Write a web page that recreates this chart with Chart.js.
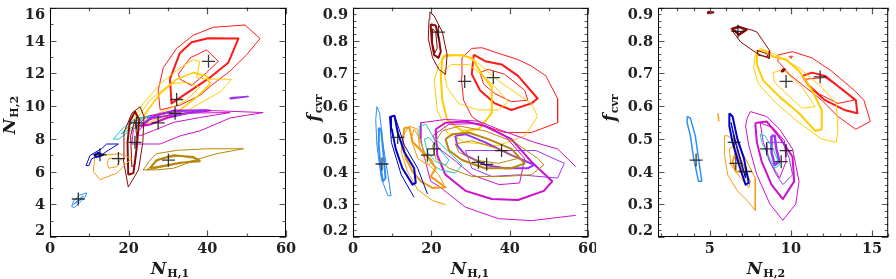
<!DOCTYPE html>
<html>
<head>
<meta charset="utf-8">
<script src="https://cdn.jsdelivr.net/npm/chart.js@4.4.0/dist/chart.umd.min.js"></script>
<style>
  body { margin: 0; background: #fff; width: 896px; height: 279px; position: relative; overflow: hidden; }
  canvas { position: absolute; top: 0; }
</style>
</head>
<body>
<canvas id="c1" width="298" height="279" style="left:0"></canvas>
<canvas id="c2" width="298" height="279" style="left:298px"></canvas>
<canvas id="c3" width="300" height="279" style="left:596px"></canvas>
<script>
// colours of the sources
const cLightBlue = "#2f8ff5";
const cBlue = "#0000cc";
const cOrange = "#f39a12";
const cDarkRed = "#8b0a0a";
const cCyan = "#1cc8c8";
const cGold = "#ffcc00";
const cRed = "#ff1a1a";
const cMagenta = "#cc11cc";
const cPurple = "#9933ee";
const cGoldenrod = "#b8860b";

// ---------- panel 1 : N_H,1 vs N_H,2 ----------
const p1RedThin = [
  [[27.5,10.95],[28.8,12.34],[32.2,13.52],[36.4,14.32],[41.5,14.81],[49.6,14.95],[53.4,14.12],[50,13.13],[45.8,12.14],[41.5,11.35],[38.1,10.65],[33.1,10.06],[28,9.76]],
  [[32.6,11.94],[35.6,12.93],[39.8,13.43],[42.8,12.73],[39.8,12.04],[36,11.25],[33.1,11.64]]
];
const p1RedThick = [
  [[30.5,11.64],[33,13.23],[36,13.9],[40.2,14.14],[47.9,14.12],[45.3,12.64],[41,11.8],[36.4,11.05],[30.9,10.16]]
];
const p1GoldThin = [
  [[19.5,8.57],[23.7,10.16],[28,11.35],[33.1,12.34],[36.4,12.83],[38.1,12.73],[37.3,11.74],[39.8,11.64],[46.2,11.64],[43.2,10.85],[38.1,10.16],[33.1,9.47],[28,9.27],[22.9,8.77]],
  [[22,9.17],[25.4,10.36],[30.5,11.35],[34.7,11.45],[38.1,11.15],[34.7,10.36],[29.7,9.76],[24.6,9.27]]
];
const p1GoldThick = [
  [[23.7,9.37],[28,10.75],[32.2,11.64],[36.4,12.04],[39.8,11.84],[40.7,11.35],[37.3,10.55],[33.1,9.76],[28,9.27]]
];
const p1MagentaThin = [
  [[20.8,7.68],[21.2,8.57],[24.6,9.37],[31.4,9.72],[41.5,9.72],[54.2,9.6],[45.8,9.27],[38.1,8.48],[33.1,8.18],[28,7.68]],
  [[22,8.38],[25.4,9.17],[32.2,9.56],[45.8,9.6],[38.1,9.3],[31.4,9.0],[26.3,8.5],[22.9,8.18]]
];
const p1MagentaThick = [
  [[22.9,8.77],[26.3,9.37],[31.4,9.72],[40.7,9.72],[34.7,9.56],[29.7,9.27],[25.4,8.87]]
];
const p1Purple = [
  [[24.6,9.27],[31.4,9.66],[39.8,9.76],[35,9.55],[28,9.35]],
  [[45.8,10.5],[50.4,10.58],[46,10.45]]
];
const p1Cyan = [
  [[16.1,7.98],[18.6,8.67],[22,9.27],[25.4,9.37],[23.7,8.97],[20.3,8.48],[17.4,7.98]],
  [[18,8.3],[21,9.0],[24,9.3],[22,8.9],[19,8.4]]
];
const p1DarkRedThin = [
  [[19.9,5.05],[18.6,6.79],[18.8,8.38],[20.8,9.56],[22.9,9.96],[23.9,9.37],[23.6,7.78],[22.5,6.1]],
  [[20.8,6.3],[20.5,8.18],[21.6,9.17],[22.2,7.78],[21.6,6.4]]
];
const p1DarkRedThick = [
  [[19.9,5.8],[19.7,7.78],[20.3,9.07],[21.6,9.66],[22.7,9.17],[22,7.39],[21.2,5.9]]
];
const p1BlueThin = [
  [[9.15,6.36],[10.2,6.99],[13.1,7.39],[14.4,7.68],[17.4,7.68],[14.8,7.29],[12.7,6.95],[10.6,6.79],[9.9,6.36]]
];
const p1BlueThick = [
  [[11.2,7.0],[12.3,7.15],[13.4,7.0],[12,6.9]]
];
const p1Orange = [
  [[11.4,6.9],[14,7.0],[17.8,7.09],[20.8,6.79],[19,6.4],[17,5.9],[12.7,5.5],[11,6.0]],
  [[14.5,6.5],[15,6.8],[18,6.8],[17,6.3],[15,6.2]]
];
const p1GoldenrodThin = [
  [[23.7,6.1],[25.4,6.69],[27.1,7.09],[32.2,7.29],[39.8,7.39],[49.2,7.39],[42.4,7.09],[38.1,6.79],[31.4,6.2],[27.1,6.1]],
  [[24.6,6.1],[28,6.79],[33,6.95],[38,6.75],[32,6.45],[27,6.2]]
];
const p1GoldenrodThick = [
  [[25.4,6.2],[27.1,6.69],[31.4,6.99],[36.4,6.89],[38.1,6.63],[33.1,6.53],[28,6.3]]
];
const p1LightBlue = [
  [[5.5,3.85],[6.0,4.2],[7.5,4.55],[9.3,4.7],[9.0,4.45],[7.5,4.1],[6.2,3.8]],
  [[6,4.0],[7.5,4.35],[8.5,4.5],[7.2,4.15]]
];
const p1CrossX = [7.2, 12.7, 17.4, 21.6, 22.0, 27.5, 30.1, 31.8, 32.2, 40.3];
const p1CrossY = [4.32, 7.03, 6.79, 7.78, 8.97, 8.97, 6.69, 9.56, 10.4, 12.73];
const p1XTicks = [0, 20, 40, 60];
const p1YTicks = [2, 4, 6, 8, 10, 12, 14, 16];

// ---------- panel 2 : N_H,1 vs f_cvr ----------
const p2DarkRedThin = [
  [[19.6,0.887],[20.7,0.875],[22.8,0.826],[24.0,0.756],[23.6,0.697],[21.9,0.712],[20.3,0.747],[19.2,0.806],[19.4,0.865]],
  [[20.3,0.836],[21.1,0.826],[21.5,0.777],[20.9,0.762],[20.4,0.786]]
];
const p2DarkRedThick = [
  [[19.8,0.85],[21.1,0.846],[21.9,0.806],[22.4,0.766],[21.8,0.747],[20.7,0.756],[20.1,0.796]]
];
const p2RedThin = [
  [[27.8,0.747],[30.3,0.776],[32.9,0.778],[37.1,0.761],[42.1,0.742],[45.5,0.722],[49.2,0.692],[52.2,0.623],[52.2,0.549],[45.5,0.519],[38.7,0.519],[33.7,0.539],[30.3,0.568],[28.2,0.618],[27.6,0.687]],
  [[32.4,0.702],[34.5,0.712],[38.7,0.697],[43.8,0.648],[44.6,0.618],[40.4,0.613],[36.2,0.638],[33.3,0.667]]
];
const p2RedThick = [
  [[30.8,0.757],[33.7,0.737],[37.9,0.727],[42.1,0.692],[47.1,0.623],[45.5,0.608],[40.4,0.588],[36.2,0.608],[32.4,0.648],[30.3,0.697]]
];
const p2GoldThin = [
  [[20.7,0.677],[21.9,0.727],[23.6,0.752],[28.2,0.757],[32,0.73],[37.1,0.677],[45.5,0.608],[47.1,0.568],[43.8,0.509],[37.1,0.479],[28.7,0.489],[24.0,0.519],[21.5,0.588]],
  [[23.2,0.707],[25.2,0.727],[29.5,0.727],[33.7,0.687],[37.1,0.648],[39.6,0.613],[37.1,0.588],[32.0,0.588],[26.9,0.608],[24.0,0.657]]
];
const p2GoldThick = [
  [[22.8,0.747],[23.6,0.756],[27.8,0.754],[30.3,0.747],[32.9,0.697],[35.4,0.657],[35.4,0.578],[32.0,0.529],[27.8,0.524],[24.0,0.558],[22.8,0.618],[22.4,0.687]]
];
const p2MagentaThick = [
  [[21.1,0.529],[23.6,0.549],[28.7,0.553],[33.7,0.539],[40.4,0.499],[45.5,0.43],[50.8,0.37],[48.7,0.341],[42.1,0.313],[35.4,0.316],[28.7,0.341],[23.6,0.39],[21.5,0.45]]
];
const p2MagentaThin = [
  [[20.3,0.509],[24.5,0.544],[32.0,0.547],[38.7,0.509],[43.8,0.44],[42.5,0.365],[37.3,0.36],[30.3,0.39],[25.3,0.44],[21.9,0.47]]
];
const p2MagentaOpen = [
  [[56.8,0.415],[52.2,0.469],[46.3,0.489],[37.1,0.529],[32,0.554],[23.6,0.559],[17.3,0.549],[17.3,0.5],[18.5,0.43],[19.8,0.37],[21.9,0.355],[28.7,0.291],[37.1,0.256],[45.5,0.25],[56.8,0.266]]
];
const p2PurpleThick = [
  [[26.1,0.509],[28.7,0.514],[33.7,0.489],[40.4,0.45],[46.3,0.42],[44.6,0.41],[38.7,0.41],[33.7,0.42],[28.7,0.45],[26.6,0.479]]
];
const p2PurpleThin = [
  [[28.7,0.464],[38.7,0.464],[46.7,0.464],[53.9,0.425],[52.2,0.38],[42.5,0.39],[35.4,0.385],[30.3,0.41]]
];
const p2GoldenrodThick = [
  [[23.6,0.499],[25.3,0.514],[29.5,0.519],[34.5,0.499],[40.4,0.469],[43.8,0.425],[40.4,0.41],[33.7,0.41],[27.8,0.435],[24.5,0.464]]
];
const p2GoldenrodThin = [
  [[20.3,0.479],[22.8,0.524],[27.1,0.539],[33.7,0.524],[41.3,0.489],[47.1,0.44],[48.7,0.42],[45.5,0.39],[38.7,0.385],[30.3,0.385],[24.5,0.41],[21.1,0.44]],
  [[26.1,0.484],[30.3,0.494],[37.1,0.469],[42.1,0.44],[37.1,0.425],[31.1,0.435],[27.0,0.459]]
];
const p2Cyan = [
  [[16.9,0.539],[18.6,0.544],[20.3,0.509],[23.6,0.469],[27.8,0.42],[26.1,0.395],[22.4,0.405],[20.3,0.42],[18.2,0.459],[16.9,0.499]],
  [[18.2,0.499],[19.4,0.504],[21.9,0.469],[24.5,0.435],[23.6,0.42],[21.1,0.43],[19.0,0.459]]
];
const p2OrangeThick = [
  [[13.1,0.534],[14.4,0.534],[15.2,0.49],[17.3,0.465],[19.5,0.44],[21.1,0.41],[19.8,0.385],[23.6,0.352],[20.3,0.35],[17.3,0.37],[15.2,0.40],[13.5,0.44],[12.7,0.49]]
];
const p2OrangeThin = [
  [[14.8,0.5],[15.6,0.53],[17,0.5],[18.2,0.46],[20.5,0.43],[19,0.42],[16.5,0.44]]
];
const p2OrangeOpen = [
  [[23.2,0.36],[21.9,0.39],[18.6,0.43],[16.9,0.479],[16.5,0.529],[14.4,0.539],[12.7,0.509],[12.3,0.459],[13.9,0.40],[16.5,0.345],[20.3,0.311],[23.6,0.299]]
];
const p2BlueThick = [
  [[9.7,0.568],[10.6,0.57],[11.4,0.519],[13.1,0.459],[15.6,0.41],[16.0,0.365],[15.2,0.36],[12.6,0.41],[10.9,0.469],[9.9,0.529]]
];
const p2BlueOpen = [
  [[15.6,0.321],[12.3,0.39],[9.8,0.489],[9.3,0.568],[10.7,0.568],[13.1,0.48],[16.5,0.41],[19,0.331]]
];
const p2LightBlueThin = [
  [[6.1,0.598],[6.8,0.578],[7.6,0.489],[8.9,0.39],[9.7,0.326],[8.9,0.326],[7.2,0.38],[6.1,0.479],[5.8,0.559]]
];
const p2LightBlueThick = [
  [[6.6,0.534],[7.2,0.524],[7.8,0.449],[8.3,0.38],[7.6,0.37],[7.0,0.42],[6.5,0.489]]
];
const p2CrossX = [7.4, 11.4, 19.0, 20.7, 21.8, 28.5, 32.0, 34.1, 35.8, 37.9];
const p2CrossY = [0.423, 0.504, 0.45, 0.469, 0.826, 0.675, 0.428, 0.422, 0.687, 0.464];
const p2XTicks = [0, 20, 40, 60];
const fTicks = [0.2, 0.3, 0.4, 0.5, 0.6, 0.7, 0.8, 0.9];

// ---------- panel 3 : N_H,2 vs f_cvr ----------
const p3DarkRedThin = [
  [[6.29,0.836],[6.89,0.841],[7.6,0.832],[7.9,0.826],[8.7,0.768],[8.66,0.745],[7.9,0.761],[6.89,0.796]],
  [[7.9,0.77],[8.5,0.76],[8.6,0.75],[8.0,0.755]]
];
const p3DarkRedThick = [
  [[6.39,0.836],[6.79,0.842],[7.26,0.833],[6.79,0.818]],
  [[4.85,0.887],[5.2,0.886],[4.9,0.884]],
  [[9.45,0.71],[9.6,0.712],[9.5,0.706]]
];
const p3RedThin = [
  [[9.2,0.756],[10.1,0.766],[11.3,0.747],[12.5,0.707],[13.9,0.648],[14.5,0.618],[14.9,0.553],[14.0,0.529],[12.9,0.568],[11.9,0.618],[10.9,0.657],[9.9,0.697],[9.2,0.737]],
  [[10.9,0.682],[12.1,0.687],[13.3,0.648],[13.9,0.618],[12.9,0.608],[11.7,0.638],[11.1,0.665]],
  [[9.9,0.752],[10.1,0.752],[10.0,0.745]]
];
const p3RedThick = [
  [[10.7,0.692],[11.3,0.702],[12.1,0.692],[13.1,0.653],[14.0,0.618],[14.1,0.578],[13.3,0.588],[12.1,0.618],[11.1,0.662]]
];
const p3GoldThin = [
  [[7.8,0.756],[8.1,0.776],[9.0,0.758],[10.5,0.717],[11.9,0.657],[12.8,0.608],[12.9,0.529],[12.8,0.489],[11.9,0.499],[10.5,0.549],[9.1,0.608],[8.0,0.667],[7.7,0.717]],
  [[8.9,0.702],[9.5,0.712],[10.7,0.657],[11.5,0.598],[10.7,0.593],[9.7,0.638],[9.0,0.672]]
];
const p3GoldThick = [
  [[7.9,0.766],[8.3,0.771],[8.9,0.751],[9.7,0.742],[10.5,0.707],[11.3,0.648],[11.9,0.588],[11.9,0.529],[11.5,0.524],[10.5,0.578],[9.3,0.628],[8.3,0.677],[7.9,0.727]]
];
const p3MagentaThin = [
  [[7.3,0.563],[7.5,0.583],[8.5,0.568],[9.3,0.529],[10.1,0.469],[10.5,0.37],[10.3,0.301],[9.5,0.251],[8.7,0.301],[7.9,0.39],[7.4,0.479],[7.2,0.539]],
  [[8.1,0.548],[8.9,0.534],[9.6,0.494],[9.7,0.43],[9.3,0.38],[8.7,0.43],[8.3,0.489]]
];
const p3MagentaThick = [
  [[7.8,0.548],[8.5,0.553],[9.3,0.504],[10.1,0.445],[10.2,0.37],[9.5,0.316],[8.8,0.36],[8.2,0.43],[7.9,0.489]]
];
const p3PurpleThick = [
  [[8.8,0.509],[9.0,0.509],[9.1,0.469],[9.3,0.43],[9.0,0.42],[8.8,0.459]]
];
const p3PurpleThin = [
  [[8.5,0.489],[9.5,0.489],[9.9,0.44],[10.1,0.39],[9.5,0.36],[9.1,0.39],[8.6,0.44]]
];
const p3Cyan = [
  [[8.1,0.514],[8.4,0.509],[8.9,0.469],[9.3,0.42],[9.0,0.41],[8.6,0.449],[8.2,0.489]]
];
const p3BlueThick = [
  [[6.2,0.578],[6.4,0.568],[6.7,0.499],[7.1,0.44],[7.4,0.365],[7.2,0.36],[6.8,0.42],[6.4,0.489],[6.2,0.539]]
];
const p3BlueThin = [
  [[6.3,0.55],[6.6,0.49],[7.0,0.42],[7.2,0.38],[6.9,0.43],[6.5,0.5]]
];
const p3OrangeThin = [
  [[5.9,0.509],[6.1,0.509],[6.7,0.489],[7.1,0.449],[7.8,0.38],[7.8,0.331],[7.8,0.281],[7.3,0.311],[6.7,0.341],[6.1,0.39],[5.9,0.449]],
  [[6.2,0.469],[6.5,0.479],[6.9,0.439],[7.5,0.37],[7.4,0.351],[6.9,0.38],[6.3,0.42]]
];
const p3OrangeThick = [
  [[6.4,0.43],[6.6,0.459],[6.9,0.42],[7.0,0.4],[6.6,0.4]]
];
const p3OrangeOpen = [
  [[5.5,0.578],[5.55,0.553]]
];
const p3LightBlue = [
  [[3.6,0.568],[3.8,0.563],[4.1,0.509],[4.3,0.44],[4.5,0.37],[4.3,0.37],[4.0,0.44],[3.8,0.509],[3.6,0.548]]
];
const p3CrossX = [4.15, 6.5, 6.6, 7.2, 6.73, 8.5, 9.4, 9.7, 9.7, 11.8];
const p3CrossY = [0.435, 0.489, 0.425, 0.4, 0.828, 0.469, 0.43, 0.464, 0.675, 0.689];
const p3XTicks = [5, 10, 15];

// turn a list of contour rings into line datasets
function contours(rings, color, width, closed = true) {
  return rings.map(ring => {
    const pts = ring.map(p => ({ x: p[0], y: p[1] }));
    if (closed) pts.push({ x: ring[0][0], y: ring[0][1] });
    return {
      data: pts,
      showLine: true,
      pointRadius: 0,
      borderColor: color,
      borderWidth: width,
      borderJoinStyle: "round",
      tension: 0,
      fill: false,
      order: 1,
    };
  });
}

function crosses(xs, ys) {
  return {
    data: xs.map((x, i) => ({ x: x, y: ys[i] })),
    pointStyle: "cross",
    pointRadius: 6.5,
    borderColor: "rgba(20,20,20,0.85)",
    borderWidth: 1.3,
    showLine: false,
    order: 0,
  };
}

function stepList(from, to, step) {
  const out = [];
  for (let v = from; v <= to + 1e-9; v += step) out.push(+v.toFixed(4));
  return out;
}

// draw subscripted title, e.g. N with H,1
function drawTitle(ctx, main, sub, italic) {
  const mainFont = (italic ? "italic " : "") + "bold 17px 'DejaVu Serif'";
  const subFont = "bold 11px 'DejaVu Serif'";
  ctx.font = mainFont;
  const w1 = ctx.measureText(main).width;
  ctx.font = subFont;
  const w2 = ctx.measureText(sub).width;
  const x0 = -(w1 + w2 + 1) / 2;
  ctx.textAlign = "left";
  ctx.textBaseline = "alphabetic";
  ctx.font = mainFont;
  ctx.fillText(main, x0, 0);
  ctx.font = subFont;
  ctx.fillText(sub, x0 + w1 + 1, 3);
}

// frame, inward ticks on all sides, labels and axis titles
const frameAxes = {
  id: "frameAxes",
  afterDatasetsDraw(chart, args, o) {
    const { ctx, chartArea: a } = chart;
    const xs = chart.scales.x, ys = chart.scales.y;
    ctx.save();
    ctx.strokeStyle = "#555";
    ctx.lineWidth = 1.2;
    const tickX = (vals, len) => vals.forEach(v => {
      const px = Math.round(xs.getPixelForValue(v)) + 0.5;
      ctx.beginPath();
      ctx.moveTo(px, a.bottom); ctx.lineTo(px, a.bottom - len);
      ctx.moveTo(px, a.top); ctx.lineTo(px, a.top + len);
      ctx.stroke();
    });
    const tickY = (vals, len) => vals.forEach(v => {
      const py = Math.round(ys.getPixelForValue(v)) + 0.5;
      ctx.beginPath();
      ctx.moveTo(a.left, py); ctx.lineTo(a.left + len, py);
      ctx.moveTo(a.right, py); ctx.lineTo(a.right - len, py);
      ctx.stroke();
    });
    tickX(o.xMinor, 3.5);
    tickX(o.xTicks, 6.5);
    tickY(o.yMinor, 3.5);
    tickY(o.yTicks, 6.5);

    ctx.strokeStyle = "#000";
    ctx.lineWidth = 1;
    ctx.strokeRect(a.left + 0.5, a.top + 0.5, a.right - a.left - 1, a.bottom - a.top - 1);

    ctx.fillStyle = "#222";
    ctx.font = "bold 14.5px 'DejaVu Serif'";
    ctx.textAlign = "center";
    ctx.textBaseline = "alphabetic";
    o.xTicks.forEach(v => ctx.fillText(o.xFmt(v), xs.getPixelForValue(v), a.bottom + 16));
    ctx.textAlign = "right";
    o.yTicks.forEach(v => {
      let py = ys.getPixelForValue(v) + 5;
      if (py - 10 < a.top) py = a.top + 11.5;
      if (py > a.bottom - 2) py = a.bottom - 2;
      ctx.fillText(o.yFmt(v), a.left - 5, py);
    });

    ctx.fillStyle = "#1a1a1a";
    ctx.save();
    ctx.translate(o.xTitleX, 274);
    drawTitle(ctx, o.xTitle[0], o.xTitle[1], true);
    ctx.restore();
    ctx.save();
    ctx.translate(o.yTitleX, o.yTitleY);
    ctx.rotate(-Math.PI / 2);
    drawTitle(ctx, o.yTitle[0], o.yTitle[1], true);
    ctx.restore();
    ctx.restore();
  },
};

function makeChart(id, datasets, xRange, yRange, pad, axes) {
  return new Chart(document.getElementById(id), {
    type: "scatter",
    data: { datasets: datasets },
    options: {
      responsive: false,
      animation: false,
      events: [],
      layout: { padding: pad },
      plugins: { legend: { display: false }, tooltip: { enabled: false }, frameAxes: axes },
      scales: {
        x: { type: "linear", min: xRange[0], max: xRange[1], display: false },
        y: { type: "linear", min: yRange[0], max: yRange[1], display: false },
      },
    },
    plugins: [frameAxes],
  });
}

const fmtInt = v => String(v);
const fmtF = v => v.toFixed(1);

makeChart("c1", [
  crosses(p1CrossX, p1CrossY),
  ...contours(p1LightBlue, cLightBlue, 1),
  ...contours(p1BlueThin, cBlue, 1),
  ...contours(p1BlueThick, cBlue, 2),
  ...contours(p1Orange, cOrange, 1),
  ...contours(p1DarkRedThin, cDarkRed, 1),
  ...contours(p1DarkRedThick, cDarkRed, 2),
  ...contours(p1Cyan, cCyan, 1),
  ...contours(p1GoldenrodThin, cGoldenrod, 1),
  ...contours(p1GoldenrodThick, cGoldenrod, 2),
  ...contours(p1Purple, cPurple, 1.5),
  ...contours(p1MagentaThin, cMagenta, 1),
  ...contours(p1MagentaThick, cMagenta, 2),
  ...contours(p1GoldThin, cGold, 1),
  ...contours(p1GoldThick, cGold, 1.6),
  ...contours(p1RedThin, cRed, 1),
  ...contours(p1RedThick, cRed, 2),
], [0, 60], [2, 16], { left: 50, right: 12, top: 2, bottom: 42 }, {
  xTicks: p1XTicks, xMinor: [10, 30, 50],
  yTicks: p1YTicks, yMinor: [3, 5, 7, 9, 11, 13, 15],
  xFmt: fmtInt, yFmt: fmtInt,
  xTitle: ["N", "H,1"], xTitleX: 170,
  yTitle: ["N", "H,2"], yTitleX: 15, yTitleY: 115,
});

makeChart("c2", [
  crosses(p2CrossX, p2CrossY),
  ...contours(p2LightBlueThin, cLightBlue, 1),
  ...contours(p2LightBlueThick, cLightBlue, 2),
  ...contours(p2BlueThick, cBlue, 2),
  ...contours(p2BlueOpen, cBlue, 1, false),
  ...contours(p2OrangeThick, cOrange, 2),
  ...contours(p2OrangeThin, cOrange, 1),
  ...contours(p2OrangeOpen, cOrange, 1, false),
  ...contours(p2Cyan, cCyan, 1),
  ...contours(p2DarkRedThin, cDarkRed, 1),
  ...contours(p2DarkRedThick, cDarkRed, 2),
  ...contours(p2GoldenrodThick, cGoldenrod, 2),
  ...contours(p2GoldenrodThin, cGoldenrod, 1),
  ...contours(p2PurpleThick, cPurple, 2),
  ...contours(p2PurpleThin, cPurple, 1),
  ...contours(p2MagentaThick, cMagenta, 2),
  ...contours(p2MagentaThin, cMagenta, 1),
  ...contours(p2MagentaOpen, cMagenta, 1, false),
  ...contours(p2GoldThick, cGold, 2),
  ...contours(p2GoldThin, cGold, 1),
  ...contours(p2RedThick, cRed, 2),
  ...contours(p2RedThin, cRed, 1),
], [0, 60], [0.2, 0.9], { left: 55, right: 5, top: 2, bottom: 42 }, {
  xTicks: p2XTicks, xMinor: [10, 30, 50],
  yTicks: fTicks, yMinor: stepList(0.22, 0.88, 0.02),
  xFmt: fmtInt, yFmt: fmtF,
  xTitle: ["N", "H,1"], xTitleX: 172,
  yTitle: ["f", "cvr"], yTitleX: 21, yTitleY: 108,
});

makeChart("c3", [
  crosses(p3CrossX, p3CrossY),
  ...contours(p3LightBlue, cLightBlue, 1.5),
  ...contours(p3BlueThick, cBlue, 2),
  ...contours(p3BlueThin, cBlue, 1),
  ...contours(p3OrangeThin, cOrange, 1),
  ...contours(p3OrangeThick, cOrange, 2),
  ...contours(p3OrangeOpen, cOrange, 1.5, false),
  ...contours(p3Cyan, cCyan, 1),
  ...contours(p3PurpleThick, cPurple, 2.5),
  ...contours(p3PurpleThin, cPurple, 1),
  ...contours(p3MagentaThick, cMagenta, 2),
  ...contours(p3MagentaThin, cMagenta, 1),
  ...contours(p3DarkRedThin, cDarkRed, 1),
  ...contours(p3DarkRedThick, cDarkRed, 2.5),
  ...contours(p3GoldThick, cGold, 2),
  ...contours(p3GoldThin, cGold, 1),
  ...contours(p3RedThick, cRed, 2),
  ...contours(p3RedThin, cRed, 1),
], [1.8, 16], [0.2, 0.9], { left: 62, right: 2, top: 2, bottom: 42 }, {
  xTicks: p3XTicks, xMinor: [2, 3, 4, 6, 7, 8, 9, 11, 12, 13, 14, 16],
  yTicks: fTicks, yMinor: stepList(0.22, 0.88, 0.02),
  xFmt: fmtInt, yFmt: fmtF,
  xTitle: ["N", "H,2"], xTitleX: 170,
  yTitle: ["f", "cvr"], yTitleX: 19, yTitleY: 108,
});
</script>
</body>
</html>
